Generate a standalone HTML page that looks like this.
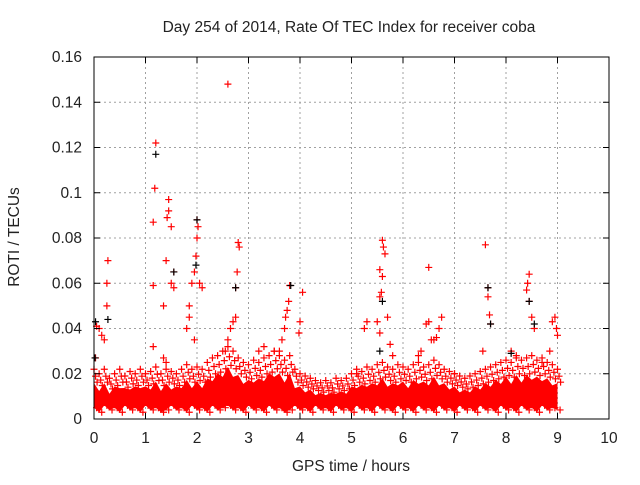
<!DOCTYPE html>
<html><head><meta charset="utf-8"><style>
body{margin:0;background:#fff}
svg text{font-family:"Liberation Sans",sans-serif;font-size:15.5px;fill:#222}
</style></head><body>
<svg id="chart" width="640" height="480" xmlns="http://www.w3.org/2000/svg">
<rect width="640" height="480" fill="#fff"/>
<text x="349" y="32" text-anchor="middle">Day 254 of 2014, Rate Of TEC Index for receiver coba</text>
<text x="351" y="471" text-anchor="middle">GPS time / hours</text>
<text transform="translate(19,237) rotate(-90)" text-anchor="middle">ROTI / TECUs</text>
<g id="grid"></g>
<g id="band"></g>
<g id="pts"></g>
<rect x="94" y="57" width="515" height="362" fill="none" stroke="#000" stroke-width="1"/>
<g id="ticks"></g>
</svg>
<script>
const xTicks=[0,1,2,3,4,5,6,7,8,9,10];
const yTicks=[0,0.02,0.04,0.06,0.08,0.1,0.12,0.14,0.16];
const yTickLabels=["0","0.02","0.04","0.06","0.08","0.1","0.12","0.14","0.16"];
const bandTimes=[0,0.1,0.2,0.3,0.4,0.5,0.6,0.7,0.8,0.9,1,1.1,1.2,1.3,1.4,1.5,1.6,1.7,1.8,1.9,2,2.1,2.2,2.3,2.4,2.5,2.6,2.7,2.8,2.9,3,3.1,3.2,3.3,3.4,3.5,3.6,3.7,3.8,3.9,4,4.1,4.2,4.3,4.4,4.5,4.6,4.7,4.8,4.9,5,5.1,5.2,5.3,5.4,5.5,5.6,5.7,5.8,5.9,6,6.1,6.2,6.3,6.4,6.5,6.6,6.7,6.8,6.9,7,7.1,7.2,7.3,7.4,7.5,7.6,7.7,7.8,7.9,8,8.1,8.2,8.3,8.4,8.5,8.6,8.7,8.8,8.9,9];
const bandTop=[0.022,0.02,0.022,0.018,0.02,0.022,0.019,0.021,0.02,0.022,0.02,0.021,0.023,0.02,0.022,0.021,0.02,0.022,0.024,0.022,0.023,0.022,0.025,0.027,0.028,0.03,0.032,0.03,0.027,0.025,0.024,0.026,0.025,0.027,0.028,0.03,0.028,0.026,0.028,0.022,0.02,0.019,0.018,0.017,0.016,0.017,0.016,0.018,0.017,0.018,0.02,0.022,0.021,0.023,0.022,0.024,0.025,0.023,0.022,0.024,0.023,0.022,0.024,0.025,0.023,0.024,0.026,0.024,0.022,0.021,0.02,0.019,0.018,0.019,0.02,0.021,0.022,0.023,0.024,0.025,0.026,0.025,0.027,0.026,0.027,0.028,0.026,0.027,0.025,0.024,0.022];
const bandLow=[0.005,0.003,0.006,0.004,0.005,0.003,0.006,0.004,0.005,0.003,0.006,0.004,0.005,0.003,0.004,0.006,0.004,0.005,0.003,0.006,0.004,0.005,0.003,0.006,0.004,0.005,0.006,0.004,0.005,0.003,0.006,0.004,0.005,0.003,0.006,0.004,0.005,0.003,0.004,0.006,0.004,0.005,0.003,0.006,0.004,0.005,0.003,0.006,0.004,0.005,0.003,0.006,0.004,0.005,0.003,0.006,0.004,0.005,0.003,0.006,0.004,0.005,0.003,0.006,0.004,0.005,0.003,0.006,0.004,0.005,0.003,0.006,0.004,0.005,0.003,0.006,0.004,0.005,0.003,0.006,0.004,0.005,0.003,0.006,0.004,0.005,0.003,0.006,0.004,0.005,0.004];
const redT=[0.05,0.1,0.15,0.2,0.25,0.25,0.27,0.03,1.2,1.18,1.15,1.15,1.15,1.45,1.45,1.42,1.4,1.35,1.5,1.55,1.55,1.5,1.35,1.4,2.0,2.02,2.0,1.98,1.95,1.9,1.85,1.85,1.8,2.05,2.1,1.95,2.6,2.7,2.65,2.6,2.8,2.82,2.78,2.75,2.75,2.55,3.8,3.78,3.75,3.72,3.7,3.65,3.6,4.05,4.0,3.98,3.3,3.2,3.5,5.6,5.62,5.65,5.55,5.6,5.58,5.55,5.5,5.55,5.3,5.25,5.7,5.75,5.8,5.1,6.5,6.45,6.5,6.35,6.3,6.55,6.75,6.7,6.65,6.6,7.0,7.6,7.65,7.65,7.68,7.7,7.55,8.45,8.42,8.4,8.45,8.5,8.55,8.1,8.2,8.95,8.9,8.98,9.0,8.85,8.7];
const redV=[0.041,0.040,0.037,0.035,0.05,0.06,0.07,0.027,0.122,0.102,0.087,0.059,0.032,0.097,0.092,0.089,0.07,0.05,0.085,0.065,0.058,0.06,0.027,0.025,0.088,0.085,0.08,0.072,0.065,0.06,0.05,0.045,0.04,0.06,0.058,0.035,0.148,0.043,0.04,0.035,0.078,0.076,0.065,0.058,0.045,0.03,0.059,0.052,0.048,0.045,0.04,0.035,0.03,0.056,0.043,0.038,0.032,0.03,0.03,0.079,0.076,0.073,0.066,0.063,0.056,0.054,0.043,0.038,0.043,0.04,0.045,0.033,0.028,0.02,0.067,0.042,0.043,0.03,0.028,0.035,0.045,0.04,0.036,0.035,0.02,0.077,0.058,0.054,0.046,0.042,0.03,0.064,0.06,0.057,0.052,0.045,0.04,0.03,0.028,0.045,0.043,0.04,0.037,0.03,0.025];
const blackT=[1.2,1.55,2.0,1.98,2.75,3.82,5.6,5.55,7.65,7.7,8.45,8.55,8.1,0.03,0.02,0.27];
const blackV=[0.117,0.065,0.088,0.068,0.058,0.059,0.052,0.03,0.058,0.042,0.052,0.042,0.029,0.043,0.027,0.044];

const NS="http://www.w3.org/2000/svg";
const X=h=>94+h*51.5, Y=v=>419-v*2262.5;
function mk(tag,attrs,parent){const e=document.createElementNS(NS,tag);for(const k in attrs)e.setAttribute(k,attrs[k]);parent.appendChild(e);return e;}
const grid=document.getElementById('grid'),ticks=document.getElementById('ticks'),band=document.getElementById('band'),pts=document.getElementById('pts');
xTicks.forEach(t=>{
  if(t>0&&t<10){const l=mk('line',{x1:X(t),x2:X(t),y1:57,y2:419,stroke:'#a0a0a0','stroke-dasharray':'2,3'},grid);
  
  }
  mk('line',{x1:X(t),x2:X(t),y1:419,y2:413,stroke:'#000'},ticks);
  mk('line',{x1:X(t),x2:X(t),y1:57,y2:63,stroke:'#000'},ticks);
  const tx=mk('text',{x:X(t),y:443,'text-anchor':'middle'},ticks);tx.textContent=t;
  
  
});
yTicks.forEach((v,i)=>{
  if(i>0&&i<yTicks.length-1){const l=mk('line',{x1:94,x2:609,y1:Y(v),y2:Y(v),stroke:'#a0a0a0','stroke-dasharray':'2,3'},grid);
  
  }
  mk('line',{x1:94,x2:100,y1:Y(v),y2:Y(v),stroke:'#000'},ticks);
  mk('line',{x1:609,x2:603,y1:Y(v),y2:Y(v),stroke:'#000'},ticks);
  const tx=mk('text',{x:82,y:Y(v)+5,'text-anchor':'end'},ticks);tx.textContent=yTickLabels[i];
  
  
});
let d='M'+X(bandTimes[0])+','+Y(bandLow[0]);
bandTimes.forEach((t,i)=>{d+=' L'+X(t)+','+Y(bandLow[i]);});
for(let i=bandTimes.length-1;i>=0;i--){d+=' L'+X(bandTimes[i])+','+Y(bandTop[i]*(i%2?0.62:0.72));}
d+=' Z';
const poly=mk('path',{d:d,fill:'#f00'},band);


function plus(x,y,c,g){const p=mk('path',{d:`M${x-3.5},${y}h7M${x},${y-3.5}v7`,stroke:c,'stroke-width':1.2,fill:'none'},g);return p;}
bandTimes.forEach((t,i)=>{
  [0,0.03,0.06].forEach((o,j)=>{
    const p=plus(X(t+o),Y(bandTop[i]*[1,0.86,0.74][j]),'#f00',band);
    
    
  });
  const q=plus(X(t+0.05),Y(bandLow[i]),'#f00',band);
  
  
});
redT.forEach((t,i)=>{const p=plus(X(t),Y(redV[i]),'#f00',pts);
  
  });
blackT.forEach((t,i)=>{const p=plus(X(t),Y(blackV[i]),'#000',pts);
  
  });
</script>
</body></html>
